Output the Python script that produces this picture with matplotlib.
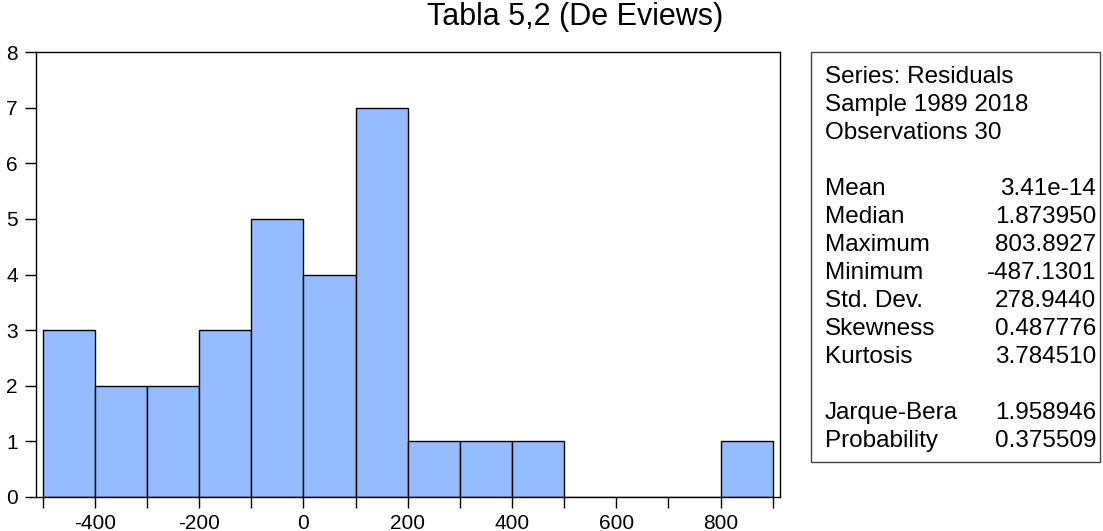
import matplotlib
matplotlib.use('Agg')
import matplotlib.pyplot as plt
from matplotlib.patches import Rectangle

plt.rcParams['font.family'] = ['Liberation Sans', 'DejaVu Sans']
plt.rcParams['axes.unicode_minus'] = False

# histogram bins (edges) and counts of the residuals
bin_edges = [-500, -400, -300, -200, -100, 0, 100, 200, 300, 400, 500, 600, 700, 800, 900]
counts = [3, 2, 2, 3, 5, 4, 7, 1, 1, 1, 0, 0, 0, 1]
x_ticks = [-400, -200, 0, 200, 400, 600, 800]
y_ticks = [0, 1, 2, 3, 4, 5, 6, 7, 8]

stat_header = ['Series: Residuals', 'Sample 1989 2018', 'Observations 30']
stat_names = ['Mean', 'Median', 'Maximum', 'Minimum', 'Std. Dev.', 'Skewness', 'Kurtosis']
stat_values = ['3.41e-14', '1.873950', '803.8927', '-487.1301', '278.9440', '0.487776', '3.784510']
test_names = ['Jarque-Bera', 'Probability']
test_values = ['1.958946', '0.375509']

W, H = 1103, 531
fig = plt.figure(figsize=(W / 100, H / 100), dpi=100)


def px(x, y):
    return x / W, 1 - y / H


ax = fig.add_axes([36 / W, (H - 497) / H, (780 - 36) / W, (497 - 52) / H])
widths = [b - a for a, b in zip(bin_edges[:-1], bin_edges[1:])]
ax.bar(bin_edges[:-1], counts, width=widths, align='edge',
       color='#94bcff', edgecolor='black', linewidth=1.0)
ax.set_xlim(-513, 914)
ax.set_ylim(0, 8)
ax.set_yticks(y_ticks)
ax.set_xticks(x_ticks)
ax.set_xticks(range(-500, 901, 100), minor=True)
ax.tick_params(axis='both', labelsize=15, direction='out', length=8, width=1)
ax.tick_params(axis='x', which='minor', length=8, width=1)
ax.tick_params(axis='x', pad=4)
ax.tick_params(axis='y', pad=5)
for s in ax.spines.values():
    s.set_linewidth(1)

fig.text(*px(575, 25), 'Tabla 5,2 (De Eviews)', fontsize=22, ha='center', va='baseline')

# statistics box
x0, y0 = px(811, 462)
x1, y1 = px(1100, 52)
fig.patches.append(Rectangle((x0, y0), x1 - x0, y1 - y0, transform=fig.transFigure,
                             fill=False, edgecolor='#444444', linewidth=1))

fs = 17.5
lx, rx = 825, 1096
step = 28
y = 83
for t in stat_header:
    fig.text(*px(lx, y), t, fontsize=fs, va='baseline')
    y += step
y += step
for n, v in zip(stat_names, stat_values):
    fig.text(*px(lx, y), n, fontsize=fs, va='baseline')
    fig.text(*px(rx, y), v, fontsize=fs, va='baseline', ha='right')
    y += step
y += step
for n, v in zip(test_names, test_values):
    fig.text(*px(lx, y), n, fontsize=fs, va='baseline')
    fig.text(*px(rx, y), v, fontsize=fs, va='baseline', ha='right')
    y += step

fig.savefig('out.png', dpi=100)
